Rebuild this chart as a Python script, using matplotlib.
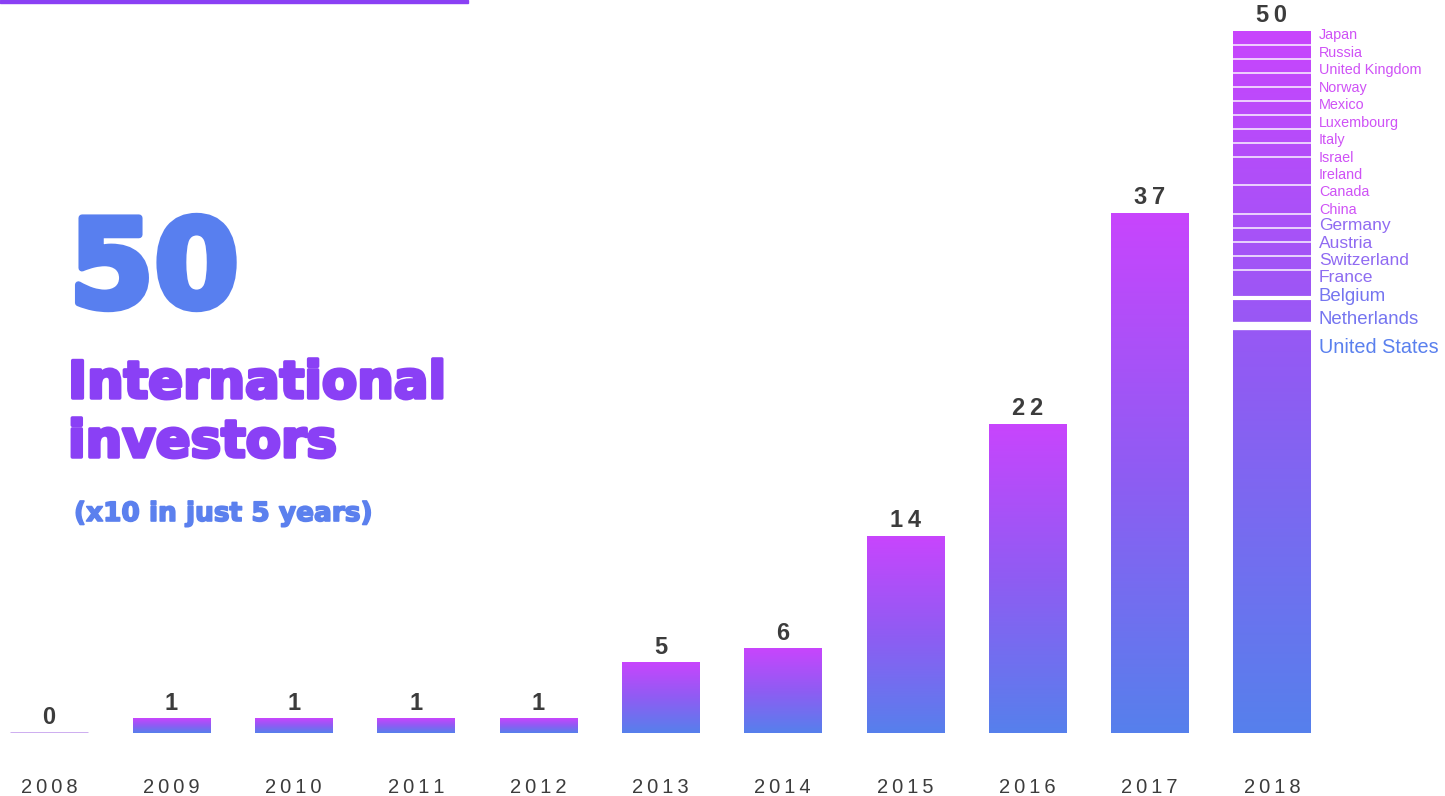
import matplotlib
matplotlib.use('Agg')
import matplotlib.pyplot as plt
import matplotlib.patheffects as pe
import numpy as np
from matplotlib.colors import LinearSegmentedColormap, to_rgb
from matplotlib.patches import Rectangle

# data
years = ['2008', '2009', '2010', '2011', '2012', '2013', '2014', '2015', '2016', '2017', '2018']
investors = [0, 1, 1, 1, 1, 5, 6, 14, 22, 37, 50]

# 2018 split by country, bottom to top
countries = ['United States', 'Netherlands', 'Belgium', 'France', 'Switzerland', 'Austria', 'Germany',
             'China', 'Canada', 'Ireland', 'Israel', 'Italy', 'Luxembourg', 'Mexico', 'Norway',
             'United Kingdom', 'Russia', 'Japan']
country_counts = [29, 2, 2, 1, 1, 1, 1, 2, 2, 1, 1, 1, 1, 1, 1, 1, 1, 1]

BLUE = '#5680ec'
MAGENTA = '#c845fd'
PINK = '#cf52f6'
TEXT = '#3c3c3c'
cmap = LinearSegmentedColormap.from_list('grad', [BLUE, '#8f5cf3', MAGENTA])
sans = ['Liberation Sans', 'DejaVu Sans']

W, H = 1445, 796
fig = plt.figure(figsize=(W / 100, H / 100), dpi=100)
ax = fig.add_axes([0, (H - 733) / H, 1, 733 / H])

px_per_bar = 122.3
xmin = -49 / px_per_bar
xmax = xmin + W / px_per_bar
ymax = 733 / 14.04
bw = 0.63
grad = np.linspace(0, 1, 256).reshape(-1, 1)

for i, v in enumerate(investors):
    if v == 0:
        ax.plot([i - bw / 2, i + bw / 2], [0, 0], color='#c9a6ef', lw=2, solid_capstyle='butt')
    else:
        ax.imshow(grad, cmap=cmap, origin='lower', aspect='auto',
                  extent=(i - bw / 2, i + bw / 2, 0, v), interpolation='bilinear')
    lab = '\u2009'.join(str(v))
    ax.annotate(lab, (i, v), xytext=(0, 3), textcoords='offset points', ha='center', va='bottom',
                fontsize=17, fontweight='bold', color=TEXT, family=sans)

# country segments on the 2018 bar
i18 = len(investors) - 1
bounds = np.cumsum(country_counts)[:-1]
for k, b in enumerate(bounds):
    lw = 6 if k == 0 else (3 if k == 1 else 1.3)
    alpha = 1 if k < 2 else 0.8
    ax.plot([i18 - bw / 2, i18 + bw / 2], [b, b], color='white', lw=lw, alpha=alpha, solid_capstyle='butt')

# country labels, stacked down from the bar top
sizes = [14.3, 13.4, 13.4, 12.6, 12.5, 12.5, 12.5] + [10.4] * 11
small = min(sizes)
c0, c1 = np.array(to_rgb(PINK)), np.array(to_rgb('#5a80ee'))
off = -3.0
prev = None
for k in range(len(countries) - 1, -1, -1):  # Japan first
    s = sizes[k]
    if prev is not None:
        m = (s + prev) / 2
        f = 1.21 if s == prev == small else 1 + max(0, m - 12.9) * 0.45
        off -= f * m
    t = (s - small) / (max(sizes) - small)
    col = c0 + (c1 - c0) * t
    ax.annotate(countries[k], (i18 + bw / 2, investors[-1]), xytext=(6, off), textcoords='offset points',
                ha='left', va='center', fontsize=s, color=col, family=sans)
    prev = s

ax.set_xlim(xmin, xmax)
ax.set_ylim(0, ymax)
ax.set_xticks(range(len(years)))
ax.set_xticklabels(['\u2009'.join(y) for y in years], fontsize=14.5, color=TEXT, family=sans)
ax.tick_params(axis='x', length=0, pad=32.5)
ax.set_yticks([])
for sp in ax.spines.values():
    sp.set_visible(False)
ax.patch.set_alpha(0)

# headline block
fig.patches.append(Rectangle((0, 1 - 3 / H), 468 / W, 3 / H, transform=fig.transFigure,
                             color='#8a40f4', zorder=5))
heavy = ['DejaVu Sans']
fig.text(69 / W, 1 - 307 / H, '50', fontsize=88, fontweight='bold', color='#587fef', family=heavy,
         va='baseline', ha='left', path_effects=[pe.withStroke(linewidth=5, foreground='#587fef')])
for txt, yb in [('International', 398), ('investors', 457)]:
    fig.text(68 / W, 1 - yb / H, txt, fontsize=37, fontweight='bold', color='#8a40f5', family=heavy,
             va='baseline', ha='left', path_effects=[pe.withStroke(linewidth=2.5, foreground='#8a40f5')])
fig.text(74 / W, 1 - 521 / H, '(x10 in just 5 years)', fontsize=19, fontweight='bold', color='#5b80ee',
         family=heavy, va='baseline', ha='left',
         path_effects=[pe.withStroke(linewidth=1.2, foreground='#5b80ee')])

fig.savefig('out.png', dpi=100)
